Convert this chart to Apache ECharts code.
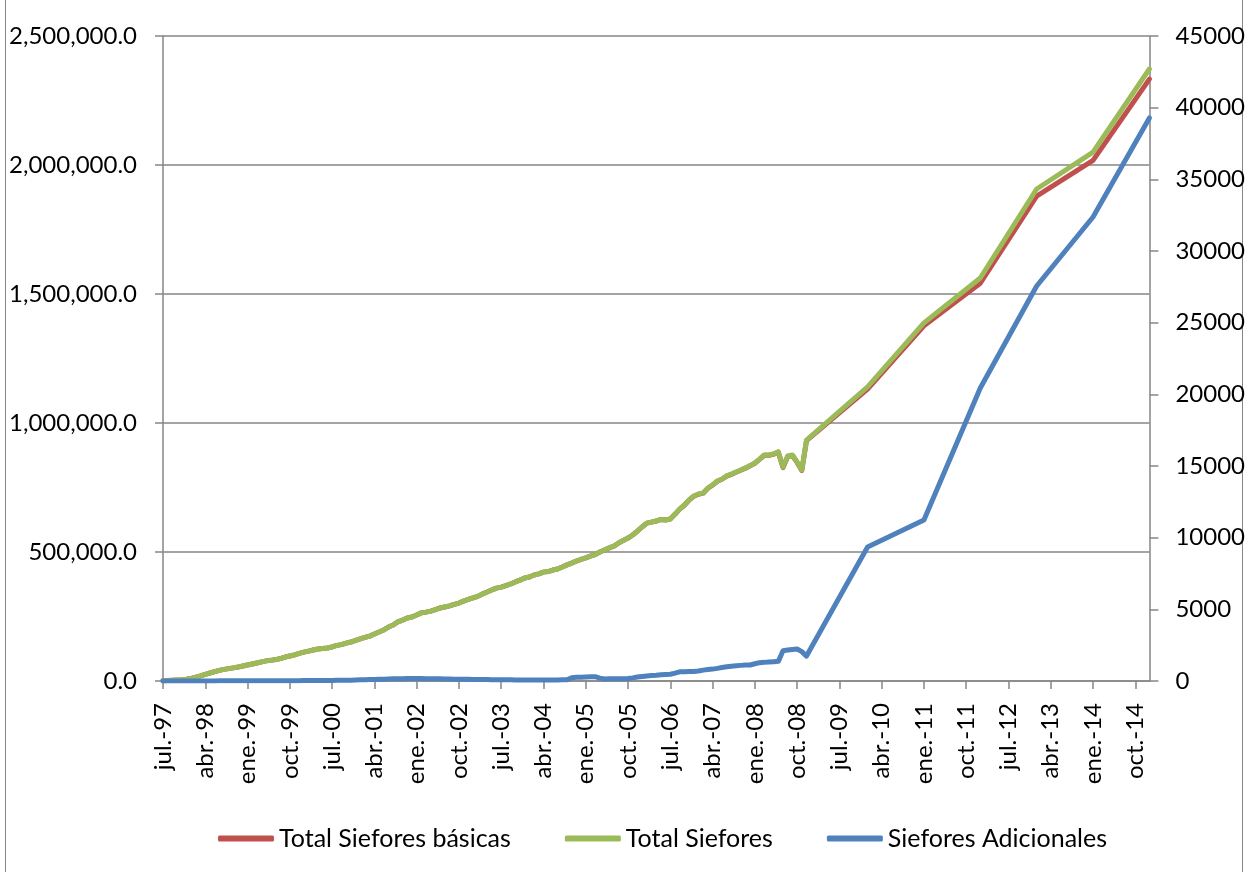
<!DOCTYPE html>
<html>
<head>
<meta charset="utf-8">
<script src="https://cdn.jsdelivr.net/npm/echarts@6/dist/echarts.min.js"></script>
<style>
html,body{margin:0;padding:0;background:#fff;}
#chart{width:1248px;height:872px;}
</style>
</head>
<body>
<div id="chart"></div>
<script>
// Month names used for the category (tick) labels
const monthNames = ['ene.','feb.','mar.','abr.','may.','jun.','jul.','ago.','sep.','oct.','nov.','dic.'];
const startYear = 1997, startMonth = 6, monthCount = 211; // jul.-97 .. ene.-15

// Monthly data jul.-97 .. dic.-08 (millones de pesos)
const totalSiefores = [
 1000,2000,3000,4000,5000,7000,10000,15000,20000,26000,
 31000,36000,41000,45000,48000,51000,54000,58000,62000,66000,
 70000,74000,78000,80000,83000,87000,93000,97000,101000,107000,
 112000,116000,120000,124000,126000,128000,132000,138000,141000,147000,
 151000,157000,163000,169000,174000,182000,190000,198000,209000,217000,
 229000,236000,244000,248000,256000,264000,267000,271000,277000,283000,
 287000,291000,297000,302000,310000,316000,322000,328000,337000,345000,
 353000,360000,364000,370000,376000,384000,391000,399000,403000,411000,
 415000,422000,424000,430000,434000,442000,450000,457000,465000,471000,
 477000,484000,490000,500000,508000,516000,523000,535000,545000,554000,
 566000,581000,597000,612000,616000,620000,626000,624000,628000,647000,
 667000,682000,702000,717000,725000,729000,748000,760000,775000,783000,
 795000,802000,810000,818000,826000,835000,845000,860000,876000,876000,
 880000,888000,829000,872000,876000,849000,818000,934000
];
const totalBasicas = [
 1000,2000,3000,4000,5000,7000,10000,15000,20000,26000,
 31000,36000,41000,45000,48000,51000,54000,58000,62000,66000,
 70000,74000,78000,80000,83000,87000,93000,97000,101000,107000,
 112000,116000,120000,124000,126000,128000,132000,138000,141000,147000,
 151000,157000,163000,169000,174000,182000,190000,198000,209000,217000,
 229000,236000,244000,248000,256000,264000,267000,271000,277000,283000,
 287000,291000,297000,302000,310000,316000,322000,328000,337000,345000,
 353000,360000,364000,370000,376000,384000,391000,399000,403000,411000,
 415000,422000,424000,430000,434000,442000,450000,457000,465000,471000,
 477000,484000,490000,500000,508000,516000,523000,535000,545000,554000,
 566000,581000,597000,612000,616000,620000,626000,624000,628000,646000,
 666000,681000,701000,716000,724000,728000,747000,759000,774000,782000,
 794000,801000,809000,817000,825000,834000,844000,859000,875000,875000,
 879000,887000,827000,870000,874000,847000,816000,932000
];
const sieforesAdicionales = [
 0,0,0,0,0,0,0,0,0,0,
 0,0,10,10,10,10,10,10,10,10,
 10,10,10,20,20,20,20,20,20,20,
 30,30,30,30,40,40,40,50,50,60,
 60,70,80,90,100,110,120,130,140,150,
 160,160,170,170,170,170,160,160,150,150,
 140,140,130,130,120,120,110,110,100,100,
 90,90,80,80,80,70,70,70,70,70,
 70,70,70,70,70,80,80,230,260,270,
 280,290,300,200,140,150,150,150,160,170,
 220,280,320,350,380,400,430,450,470,550,
 640,650,660,670,700,760,800,830,880,940,
 990,1030,1060,1090,1110,1120,1200,1280,1300,1330,
 1350,1370,2110,2160,2200,2230,2050,1740
];

// Annual observations after 2008
const annualDates = ['ene.-10','ene.-11','ene.-12','ene.-13','ene.-14','ene.-15'];
const totalSieforesAnnual = [1140000,1388000,1562000,1907000,2050000,2372000];
const totalBasicasAnnual = [1131000,1377000,1542000,1879000,2018000,2333000];
const adicionalesAnnual = [9350,11230,20440,27560,32370,39280];

// Axis ticks
const leftMax = 2500000, leftInterval = 500000;
const rightMax = 45000, rightInterval = 5000;

const categories = [];
for (let i = 0; i < monthCount; i++) {
  const mi = startMonth + i;
  const y = startYear + Math.floor(mi / 12);
  categories.push(monthNames[mi % 12] + '-' + String(y % 100).padStart(2, '0'));
}
function pairs(monthly, annual) {
  return monthly.map((v, i) => [categories[i], v]).concat(annual.map((v, i) => [annualDates[i], v]));
}

const FONT = 'Lato';
const FS = 24;
const gray = '#868686';

const chart = echarts.init(document.getElementById('chart'), null, {renderer: 'canvas'});
chart.setOption({
  animation: false,
  backgroundColor: '#ffffff',
  textStyle: {fontFamily: FONT},
  graphic: [
    {type: 'line', shape: {x1: 5.5, y1: 0, x2: 5.5, y2: 872}, style: {stroke: gray, lineWidth: 1}},
    {type: 'line', shape: {x1: 1242.5, y1: 0, x2: 1242.5, y2: 872}, style: {stroke: gray, lineWidth: 1}}
  ],
  grid: {left: 163, right: 98, top: 36, bottom: 191, containLabel: false},
  legend: {
    left: 213, top: 821,
    itemWidth: 56, itemHeight: 6, itemGap: 54,
    icon: 'roundRect',
    textStyle: {fontFamily: FONT, fontSize: 25, color: '#000'},
    data: ['Total Siefores básicas', 'Total Siefores', 'Siefores Adicionales']
  },
  xAxis: {
    type: 'category',
    boundaryGap: false,
    data: categories,
    axisLine: {lineStyle: {color: gray, width: 1.5}},
    axisTick: {interval: 8, length: 8, lineStyle: {color: gray, width: 1.5}},
    axisLabel: {interval: 8, rotate: 90, margin: 22, fontFamily: FONT, fontSize: FS, color: '#000'},
    splitLine: {show: false}
  },
  yAxis: [
    {
      type: 'value', min: 0, max: leftMax, interval: leftInterval, position: 'left',
      axisLine: {show: true, lineStyle: {color: gray, width: 1.5}},
      axisTick: {show: true, length: 8, lineStyle: {color: gray, width: 1.5}},
      axisLabel: {
        margin: 26, fontFamily: FONT, fontSize: FS, color: '#000',
        formatter: v => v.toLocaleString('en-US', {minimumFractionDigits: 1, maximumFractionDigits: 1})
      },
      splitLine: {show: true, lineStyle: {color: gray, width: 1.5}}
    },
    {
      type: 'value', min: 0, max: rightMax, interval: rightInterval, position: 'right',
      axisLine: {show: true, lineStyle: {color: gray, width: 1.5}},
      axisTick: {show: true, length: 9, lineStyle: {color: gray, width: 1.5}},
      axisLabel: {margin: 26, fontFamily: FONT, fontSize: FS, color: '#000', formatter: v => String(v)},
      splitLine: {show: false}
    }
  ],
  series: [
    {
      name: 'Total Siefores básicas', type: 'line', yAxisIndex: 0, symbol: 'none',
      data: pairs(totalBasicas, totalBasicasAnnual),
      itemStyle: {color: '#C0504D'},
      lineStyle: {color: '#C0504D', width: 5, cap: 'round', join: 'round'}
    },
    {
      name: 'Total Siefores', type: 'line', yAxisIndex: 0, symbol: 'none',
      data: pairs(totalSiefores, totalSieforesAnnual),
      itemStyle: {color: '#9BBB59'},
      lineStyle: {color: '#9BBB59', width: 5, cap: 'round', join: 'round'}
    },
    {
      name: 'Siefores Adicionales', type: 'line', yAxisIndex: 1, symbol: 'none',
      data: pairs(sieforesAdicionales, adicionalesAnnual),
      itemStyle: {color: '#4F81BD'},
      lineStyle: {color: '#4F81BD', width: 5, cap: 'round', join: 'round'}
    }
  ]
});
</script>
</body>
</html>
